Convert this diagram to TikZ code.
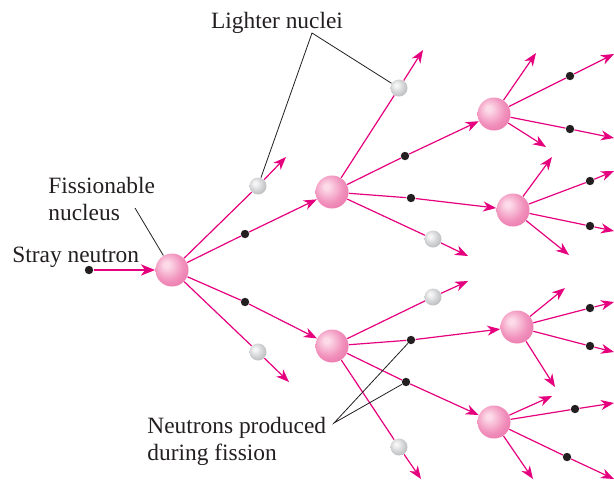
\documentclass[tikz,border=0pt]{standalone}
\usepackage{fontspec}
\setmainfont{Liberation Serif}
\usetikzlibrary{arrows.meta}
\definecolor{mag}{RGB}{229,0,126}
\definecolor{txt}{RGB}{35,31,32}
\definecolor{pkA}{RGB}{252,218,232}
\definecolor{pkB}{RGB}{241,145,188}
\definecolor{pkC}{RGB}{230,104,162}
\definecolor{grA}{RGB}{246,246,246}
\definecolor{grB}{RGB}{204,205,207}
\definecolor{grC}{RGB}{168,170,173}
\pgfdeclareradialshading{pinkball}{\pgfpoint{-9bp}{9bp}}{color(0bp)=(pkA); color(4bp)=(pkA); color(22bp)=(pkB); color(40bp)=(pkC); color(60bp)=(pkC)}
\pgfdeclareradialshading{greyball}{\pgfpoint{-9bp}{9bp}}{color(0bp)=(grA); color(4bp)=(grA); color(22bp)=(grB); color(40bp)=(grC); color(60bp)=(grC)}
\newcommand\labfont{\fontsize{11.7}{14}\selectfont}
\tikzset{
  magline/.style={draw=mag, line width=0.6pt},
  magarr/.style={magline, -{Stealth[length=6.5pt,width=5pt,inset=2pt]}},
  strayarr/.style={draw=mag, line width=1.25pt, -{Stealth[length=7pt,width=5.5pt,inset=2pt]}},
  nuc/.style={circle, inner sep=0pt, minimum size=16.5pt, shade, shading=pinkball},
  lite/.style={circle, inner sep=0pt, minimum size=8.5pt, shade, shading=greyball},
  neut/.style={circle, inner sep=0pt, minimum size=4.2pt, fill=txt},
  lab/.style={font=\labfont, text=txt, inner sep=0pt},
  lead/.style={draw=txt, line width=0.4pt}
}
\begin{document}
\begin{tikzpicture}[x=0.5pt,y=-0.5pt]
\useasboundingbox (0,0) rectangle (614,479);
% nuclei
\node[nuc] (N1) at (172,270) {};
\node[nuc] (N2) at (332,192) {};
\node[nuc] (N3) at (332,346) {};
\node[nuc] (N4) at (494,114) {};
\node[nuc] (N5) at (513,210) {};
\node[nuc] (N6) at (517,327) {};
\node[nuc] (N7) at (494,422) {};
% lighter nuclei
\node[lite] (G1) at (258,186) {};
\node[lite] (G2) at (258,352) {};
\node[lite] (G3) at (399,88) {};
\node[lite] (G4) at (433,239) {};
\node[lite] (G5) at (433,297) {};
\node[lite] (G6) at (399,447) {};
% neutrons
\node[neut] (S) at (89,270) {};
\node[neut] (D1) at (245,234) {};
\node[neut] (D2) at (245,302) {};
\node[neut] (D3) at (405,156) {};
\node[neut] (D4) at (411,198) {};
\node[neut] (D5) at (411,340) {};
\node[neut] (D6) at (406,382) {};
\node[neut] (D7) at (570,76) {};
\node[neut] (D8) at (570,129) {};
\node[neut] (D9) at (590,181) {};
\node[neut] (D10) at (590,226) {};
\node[neut] (D11) at (590,308) {};
\node[neut] (D12) at (590,346) {};
\node[neut] (D13) at (575,409) {};
\node[neut] (D14) at (567,457) {};
% free ends
\coordinate (T1) at (286,157);
\coordinate (T2) at (289,382);
\coordinate (T3) at (423,50);
\coordinate (T4) at (468,256);
\coordinate (T5) at (468,281);
\coordinate (T6) at (421,479);
\coordinate (T7) at (536,53);
\coordinate (T8) at (614,54);
\coordinate (T9) at (614,138);
\coordinate (T10) at (546,147);
\coordinate (T11) at (552,157);
\coordinate (T12) at (614,171);
\coordinate (T13) at (614,231);
\coordinate (T14) at (569,255);
\coordinate (T15) at (565,288);
\coordinate (T16) at (614,302);
\coordinate (T17) at (614,352);
\coordinate (T18) at (555,387);
\coordinate (T19) at (552,396);
\coordinate (T20) at (614,403);
\coordinate (T21) at (614,479);
\coordinate (T22) at (533,479);
% stray neutron
\draw[strayarr] (S) -- (N1);
% from N1
\draw[magline] (N1) -- (G1); \draw[magarr] (G1) -- (T1);
\draw[magline] (N1) -- (D1); \draw[magarr] (D1) -- (N2);
\draw[magline] (N1) -- (D2); \draw[magarr] (D2) -- (N3);
\draw[magline] (N1) -- (G2); \draw[magarr] (G2) -- (T2);
% from N2
\draw[magline] (N2) -- (G3); \draw[magarr] (G3) -- (T3);
\draw[magline] (N2) -- (D3); \draw[magarr] (D3) -- (N4);
\draw[magline] (N2) -- (D4); \draw[magarr] (D4) -- (N5);
\draw[magline] (N2) -- (G4); \draw[magarr] (G4) -- (T4);
% from N3
\draw[magline] (N3) -- (G5); \draw[magarr] (G5) -- (T5);
\draw[magline] (N3) -- (D5); \draw[magarr] (D5) -- (N6);
\draw[magline] (N3) -- (D6); \draw[magarr] (D6) -- (N7);
\draw[magline] (N3) -- (G6); \draw[magarr] (G6) -- (T6);
% from N4
\draw[magarr] (N4) -- (T7);
\draw[magline] (N4) -- (D7); \draw[magarr] (D7) -- (T8);
\draw[magline] (N4) -- (D8); \draw[magarr] (D8) -- (T9);
\draw[magarr] (N4) -- (T10);
% from N5
\draw[magarr] (N5) -- (T11);
\draw[magline] (N5) -- (D9); \draw[magarr] (D9) -- (T12);
\draw[magline] (N5) -- (D10); \draw[magarr] (D10) -- (T13);
\draw[magarr] (N5) -- (T14);
% from N6
\draw[magarr] (N6) -- (T15);
\draw[magline] (N6) -- (D11); \draw[magarr] (D11) -- (T16);
\draw[magline] (N6) -- (D12); \draw[magarr] (D12) -- (T17);
\draw[magarr] (N6) -- (T18);
% from N7
\draw[magarr] (N7) -- (T19);
\draw[magline] (N7) -- (D13); \draw[magarr] (D13) -- (T20);
\draw[magline] (N7) -- (D14); \draw[magarr] (D14) -- (T21);
\draw[magarr] (N7) -- (T22);
% labels
\node[lab, anchor=base] (lighter) at (277,28) {Lighter nuclei};
\node[lab, anchor=base west] (stray) at (12,262) {Stray neutron};
\node[lab, anchor=base west] (fiss1) at (48,193) {Fissionable};
\node[lab, anchor=base west] (fiss2) at (48,220) {nucleus};
\node[lab, anchor=base west] (neut1) at (147,433) {Neutrons produced};
\node[lab, anchor=base west] (neut2) at (147,460) {during fission};
% leaders
\coordinate (L1) at (135,208);
\coordinate (A1) at (312,33);
\coordinate (A2) at (334,423);
\draw[lead] (L1) -- (N1);
\draw[lead] (G1) -- (A1) -- (G3);
\draw[lead] (D5) -- (A2) -- (D6);
\end{tikzpicture}
\end{document}
